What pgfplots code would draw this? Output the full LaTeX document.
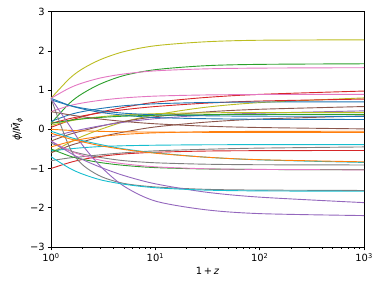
\documentclass[border=0pt]{standalone}
\usepackage{fontspec}
\setmainfont{DejaVu Sans}
\usepackage{pgfplots}
\pgfplotsset{compat=1.18}
\definecolor{tb}{HTML}{1F77B4}
\definecolor{to}{HTML}{FF7F0E}
\definecolor{tg}{HTML}{2CA02C}
\definecolor{tr}{HTML}{D62728}
\definecolor{tp}{HTML}{9467BD}
\definecolor{tbr}{HTML}{8C564B}
\definecolor{tpk}{HTML}{E377C2}
\definecolor{tgr}{HTML}{7F7F7F}
\definecolor{tol}{HTML}{BCBD22}
\definecolor{tc}{HTML}{17BECF}
\begin{document}
\begin{tikzpicture}
\begin{axis}[
  scale only axis, width=377.6bp, height=283.9bp,
  xmode=log, xmin=1, xmax=1000, ymin=-3, ymax=3,
  xtick={1,10,100,1000},
  xticklabels={10\textsuperscript{0},10\textsuperscript{1},10\textsuperscript{2},10\textsuperscript{3}},
  ytick={-3,-2,-1,0,1,2,3},
  yticklabels={−3,−2,−1,0,1,2,3},
  tick pos=left, tick align=outside,
  major tick length=4bp, minor tick length=2.4bp,
  every tick/.style={black, line width=0.8pt},
  axis line style={black, line width=0.8pt},
  tick label style={font=\fontsize{12}{14}\selectfont},
  xlabel={1\,+\,\textit{z}},
  ylabel={\textit{ϕ}/\textit{M̃}\textsubscript{\textit{ϕ}}},
  every axis x label/.style={at={(axis description cs:0.5,0)}, anchor=center, yshift=-29bp, font=\fontsize{12}{14}\selectfont},
  every axis y label/.style={at={(axis description cs:-0.1086,0.5)}, anchor=center, rotate=90, font=\fontsize{12}{14}\selectfont},
  every axis plot/.append style={line width=1.1pt, smooth, no markers},
]
\addplot[tol] coordinates {(1,0.79)(1.5,1.29)(2,1.54)(3,1.78)(5,1.98)(10,2.13)(30,2.23)(100,2.27)(1000,2.28)};
\addplot[tg] coordinates {(1,0.15)(1.5,0.66)(2,0.91)(3,1.16)(5,1.37)(10,1.52)(30,1.62)(100,1.655)(1000,1.67)};
\addplot[tpk] coordinates {(1,0.79)(1.5,1.05)(2,1.18)(3,1.31)(5,1.41)(10,1.49)(30,1.54)(100,1.56)(1000,1.57)};
\addplot[tr] coordinates {(1,0.05)(1.5,0.22)(2,0.32)(3,0.44)(5,0.56)(10,0.69)(30,0.81)(100,0.89)(1000,0.975)};
\addplot[tpk] coordinates {(1,0.45)(1.5,0.60)(2,0.67)(3,0.74)(5,0.80)(10,0.846)(30,0.875)(100,0.886)(1000,0.89)};
\addplot[tol] coordinates {(1,-0.6)(1.5,-0.34)(2,-0.18)(3,0.0)(5,0.19)(10,0.37)(30,0.56)(100,0.68)(1000,0.80)};
\addplot[tr] coordinates {(1,0.15)(1.5,0.27)(2,0.34)(3,0.42)(5,0.50)(10,0.58)(30,0.665)(100,0.72)(1000,0.77)};
\addplot[tb] coordinates {(1,0.2)(1.5,0.37)(2,0.45)(3,0.53)(5,0.60)(10,0.65)(30,0.683)(100,0.695)(1000,0.70)};
\addplot[tbr] coordinates {(1,-0.3)(1.5,-0.13)(2,-0.04)(3,0.08)(5,0.20)(10,0.32)(30,0.44)(100,0.51)(1000,0.58)};
\addplot[tp] coordinates {(1,-0.2)(1.5,-0.075)(2,0.0)(3,0.09)(5,0.18)(10,0.27)(30,0.36)(100,0.41)(1000,0.47)};
\addplot[tol] coordinates {(1,0.1)(1.5,0.21)(2,0.265)(3,0.32)(5,0.364)(10,0.397)(30,0.419)(100,0.427)(1000,0.43)};
\addplot[tbr] coordinates {(1,-0.6)(1.5,-0.42)(2,-0.32)(3,-0.19)(5,-0.07)(10,0.06)(30,0.18)(100,0.26)(1000,0.34)};
\addplot[tb] coordinates {(1,0.79)(1.5,0.61)(2,0.52)(3,0.43)(5,0.36)(10,0.30)(30,0.27)(100,0.255)(1000,0.25)};
\addplot[tb] coordinates {(1,0.75)(1.5,0.61)(2,0.54)(3,0.47)(5,0.41)(10,0.37)(30,0.344)(100,0.334)(1000,0.33)};
\addplot[tg] coordinates {(1,0.15)(1.5,0.227)(2,0.265)(3,0.303)(5,0.334)(10,0.357)(30,0.372)(100,0.378)(1000,0.38)};
\addplot[tbr] coordinates {(1,0.45)(1.5,0.37)(2,0.32)(3,0.26)(5,0.20)(10,0.14)(30,0.08)(100,0.045)(1000,0.01)};
\addplot[to] coordinates {(1,0.0)(1.5,-0.027)(2,-0.04)(3,-0.053)(5,-0.064)(10,-0.072)(30,-0.077)(100,-0.079)(1000,-0.08)};
\addplot[tc] coordinates {(1,-0.55)(1.5,-0.50)(2,-0.47)(3,-0.44)(5,-0.42)(10,-0.406)(30,-0.395)(100,-0.392)(1000,-0.39)};
\addplot[tgr] coordinates {(1,-0.8)(1.5,-0.73)(2,-0.70)(3,-0.65)(5,-0.60)(10,-0.55)(30,-0.51)(100,-0.48)(1000,-0.45)};
\addplot[tr] coordinates {(1,-1.0)(1.5,-0.85)(2,-0.77)(3,-0.69)(5,-0.63)(10,-0.586)(30,-0.555)(100,-0.545)(1000,-0.54)};
\addplot[tc] coordinates {(1,-0.05)(1.5,-0.20)(2,-0.29)(3,-0.39)(5,-0.50)(10,-0.60)(30,-0.71)(100,-0.78)(1000,-0.845)};
\addplot[tgr] coordinates {(1,-0.35)(1.5,-0.54)(2,-0.63)(3,-0.72)(5,-0.80)(10,-0.854)(30,-0.89)(100,-0.904)(1000,-0.91)};
\addplot[tg] coordinates {(1,-0.5)(1.5,-0.68)(2,-0.765)(3,-0.85)(5,-0.92)(10,-0.977)(30,-1.012)(100,-1.025)(1000,-1.03)};
\addplot[tpk] coordinates {(1,-0.3)(1.5,-0.54)(2,-0.665)(3,-0.79)(5,-0.88)(10,-0.957)(30,-1.006)(100,-1.023)(1000,-1.035)};
\addplot[tgr] coordinates {(1,0.79)(1.5,-0.45)(2,-0.9)(3,-1.2)(5,-1.38)(10,-1.47)(30,-1.53)(100,-1.55)(1000,-1.56)};
\addplot[tp] coordinates {(1,0.79)(1.5,0.1)(2,-0.4)(3,-0.95)(5,-1.45)(10,-1.83)(30,-2.05)(100,-2.15)(1000,-2.2)};
\addplot[tp] coordinates {(1,-0.3)(1.5,-0.59)(2,-0.77)(3,-0.97)(5,-1.18)(10,-1.39)(30,-1.60)(100,-1.73)(1000,-1.87)};
\addplot[tc] coordinates {(1,-0.7)(1.5,-0.99)(2,-1.14)(3,-1.29)(5,-1.40)(10,-1.49)(30,-1.55)(100,-1.571)(1000,-1.58)};
\addplot[to] coordinates {(1,-0.1)(1.5,-0.24)(2,-0.32)(3,-0.42)(5,-0.515)(10,-0.61)(30,-0.71)(100,-0.775)(1000,-0.83)};
\addplot[to] coordinates {(1,-0.45)(1.5,-0.32)(2,-0.25)(3,-0.18)(5,-0.13)(10,-0.09)(30,-0.063)(100,-0.054)(1000,-0.05)};
\end{axis}
\pgfresetboundingbox
\useasboundingbox (-61.5bp,-47.05bp) rectangle (399.3bp,297.9bp);
\end{tikzpicture}
\end{document}
